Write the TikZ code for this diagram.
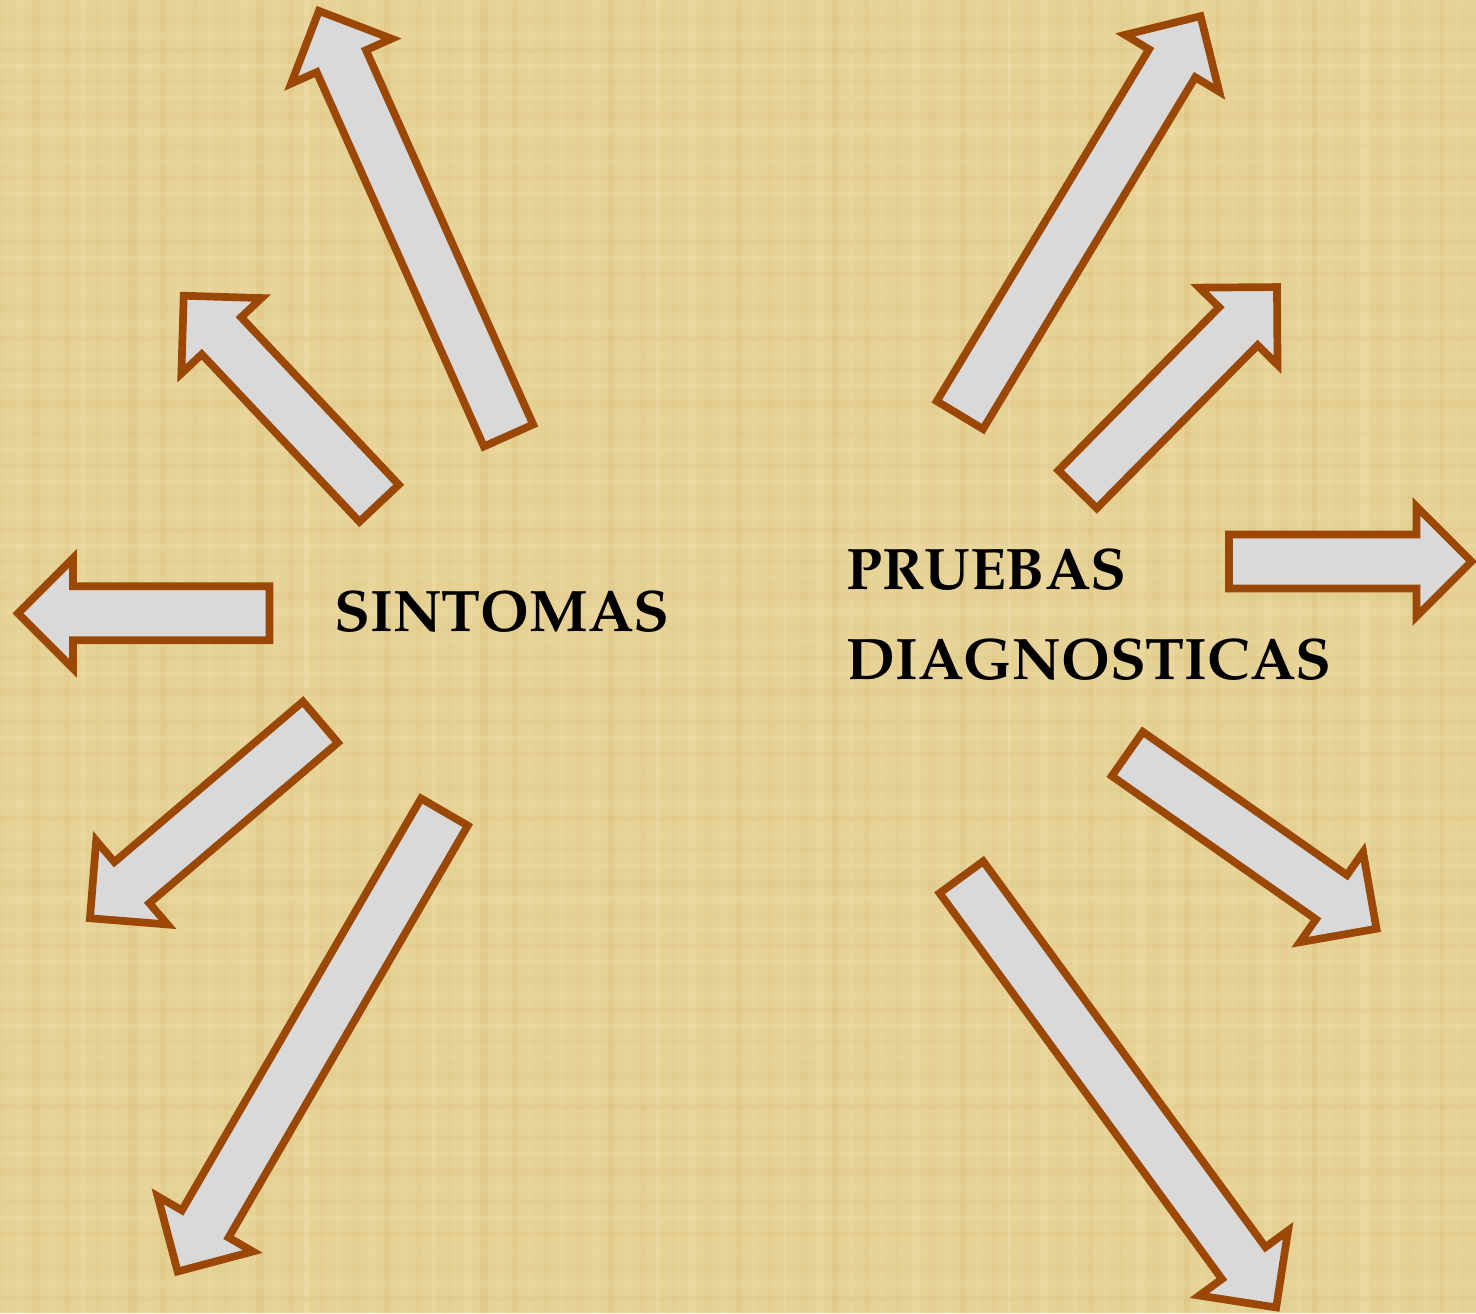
\documentclass[tikz,border=0pt]{standalone}
\usepackage[T1]{fontenc}
\usepackage{mathpazo}
\definecolor{papyrus}{RGB}{231,210,150}
\definecolor{papyruslight}{RGB}{244,226,176}
\definecolor{papyrusdark}{RGB}{205,180,110}
\definecolor{arrowbrown}{RGB}{155,72,6}
\definecolor{arrowgray}{RGB}{217,217,217}
\tikzset{
  blockarrow/.style={draw=arrowbrown, fill=arrowgray, line width=3.85pt, line join=miter},
  labeltext/.style={font=\bfseries\fontsize{29.3}{45}\selectfont, text=black, inner sep=0pt, anchor=base west}
}
% name, tail x, tail y, angle (visual, ccw), length
\newcommand\blockarr[5]{%
  \begin{scope}[shift={(#2,#3)}, rotate=#4]
    \draw[blockarrow] (0,-27) -- ({#5-55},-27) -- ({#5-55},-55) -- (#5,0)
      -- ({#5-55},55) -- ({#5-55},27) -- (0,27) -- cycle;
    \coordinate (#1) at (#5,0);
  \end{scope}}
\begin{document}
\begin{tikzpicture}[x=0.5pt,y=-0.5pt]
  \useasboundingbox (0,0) rectangle (1476,1313);
  % papyrus background
  \fill[papyrus] (0,0) rectangle (1476,1313);
  \foreach \i in {0,...,91} {
    \pgfmathsetmacro\op{0.10+0.25*mod(\i*37,11)/10}
    \pgfmathsetmacro\wd{3+mod(\i*13,7)}
    \ifodd\i
      \fill[papyruslight, opacity=\op] ({\i*16},0) rectangle ({\i*16+\wd},1313);
    \else
      \fill[papyrusdark, opacity=\op*0.6] ({\i*16},0) rectangle ({\i*16+\wd},1313);
    \fi
  }
  \foreach \j in {0,...,82} {
    \pgfmathsetmacro\op{0.08+0.22*mod(\j*29,13)/12}
    \pgfmathsetmacro\wd{3+mod(\j*11,6)}
    \ifodd\j
      \fill[papyrusdark, opacity=\op*0.5] (0,{\j*16}) rectangle (1476,{\j*16+\wd});
    \else
      \fill[papyruslight, opacity=\op] (0,{\j*16}) rectangle (1476,{\j*16+\wd});
    \fi
  }
  % arrows around SINTOMAS
  \blockarr{s1}{508.5}{435.5}{114.06}{465}
  \blockarr{s2}{379.1}{503.2}{133.28}{285}
  \blockarr{s3}{269.5}{613.3}{180}{251.5}
  \blockarr{s4}{320.4}{722.1}{220.4}{302.6}
  \blockarr{s5}{444.4}{812.0}{239.86}{531.3}
  % arrows around PRUEBAS DIAGNOSTICAS
  \blockarr{p1}{959.9}{415.1}{58.9}{465.9}
  \blockarr{p2}{1077.6}{489.3}{45.41}{284}
  \blockarr{p3}{1229}{561.5}{0}{242.5}
  \blockarr{p4}{1127.3}{753.9}{-35.06}{304.4}
  \blockarr{p5}{961.4}{877.2}{-53.81}{533.1}
  % labels
  \node[labeltext] (sintomas) at (334,631.7) {SINTOMAS};
  \node[labeltext] (pruebas) at (846,589.3) {PRUEBAS};
  \node[labeltext] (diagnosticas) at (846,679.3) {DIAGNOSTICAS};
\end{tikzpicture}
\end{document}
